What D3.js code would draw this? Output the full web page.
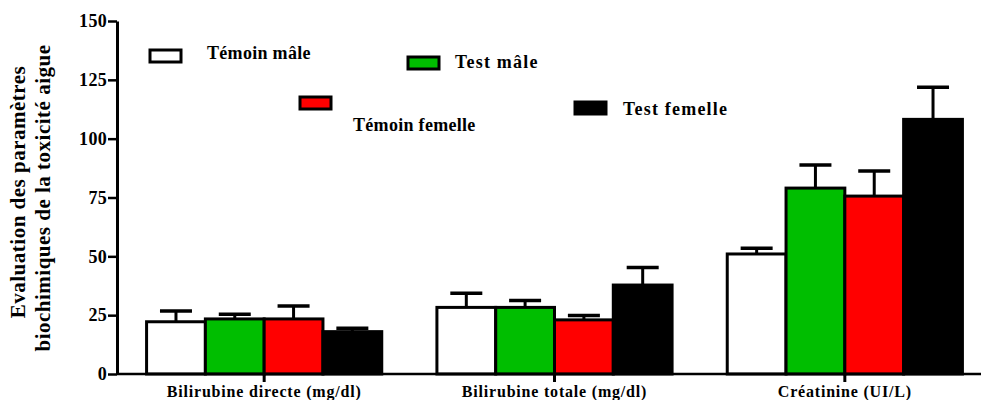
<!DOCTYPE html>
<html>
<head>
<meta charset="utf-8">
<script src="https://cdn.jsdelivr.net/npm/d3@7"></script>
<style>
    body { margin: 0; background: #fff; }
    svg { display: block; font-family: 'Liberation Serif', 'Times New Roman', serif; font-weight: bold; }
</style>
</head>
<body>
<div class="graph-container"></div>
<script>
// categories on the x axis
var categories = ['Bilirubine directe (mg/dl)', 'Bilirubine totale (mg/dl)', 'Créatinine (UI/L)'];
// series names
var seriesNames = ['Témoin mâle', 'Test mâle', 'Témoin femelle', 'Test femelle'];
var seriesColors = ['#ffffff', '#00be00', '#ff0000', '#000000'];

// means
var temoinMale = [22.2, 28.3, 51.0];
var testMale = [23.4, 28.3, 79.0];
var temoinFemelle = [23.4, 23.0, 75.6];
var testFemelle = [18.0, 37.8, 108.2];

// upper error (SEM)
var temoinMaleErr = [4.6, 6.0, 2.4];
var testMaleErr = [2.0, 2.9, 9.8];
var temoinFemelleErr = [5.5, 1.9, 10.7];
var testFemelleErr = [1.4, 7.5, 13.6];

var yTicks = [0, 25, 50, 75, 100, 125, 150];

var svgWidth = 981;
var svgHeight = 400;

// legend layout (swatch x, swatch y, text x, text y)
var legendLayout = [
    [150, 50, 207, 59],
    [408, 57, 455, 68],
    [300, 97, 353, 131],
    [575, 102, 623, 115]
];

var values = [temoinMale, testMale, temoinFemelle, testFemelle];
var errors = [temoinMaleErr, testMaleErr, temoinFemelleErr, testFemelleErr];

// flatten into one row per bar
var bars = [];
categories.forEach(function(c, ci) {
    seriesNames.forEach(function(s, si) {
        bars.push({ cat: c, series: s, si: si, value: values[si][ci], err: errors[si][ci] });
    });
});

var yScale = d3.scaleLinear()
    .domain([0, 150])
    .range([374, 21]);

var xScale = d3.scaleBand()
    .domain(categories)
    .range([119, 990])
    .paddingInner(0.19)
    .paddingOuter(0.095);

var xSub = d3.scaleBand()
    .domain(seriesNames)
    .range([0, xScale.bandwidth()]);

var svg = d3.select('.graph-container').append('svg')
    .attr('width', svgWidth)
    .attr('height', svgHeight);

// y axis title, two lines
var yTitle = svg.append('text')
    .attr('transform', 'translate(0,198) rotate(-90)')
    .style('text-anchor', 'middle')
    .style('font-size', '21px')
    .style('letter-spacing', '0.5px');
yTitle.append('tspan').attr('x', 6).attr('y', 25).text('Evaluation des paramètres');
yTitle.append('tspan').attr('x', 0).attr('y', 50).text('biochimiques de la toxicité aigue');

// bars
var g = svg.append('g');
g.selectAll('rect.bar')
    .data(bars)
    .enter()
    .append('rect')
    .attr('class', 'bar')
    .attr('x', function(d) { return xScale(d.cat) + xSub(d.series); })
    .attr('width', xSub.bandwidth())
    .attr('y', function(d) { return yScale(d.value); })
    .attr('height', function(d) { return yScale(0) - yScale(d.value); })
    .attr('fill', function(d) { return seriesColors[d.si]; })
    .attr('stroke', '#000')
    .attr('stroke-width', 3);

// error bars (upper only)
var capW = 32;
g.selectAll('line.err')
    .data(bars)
    .enter()
    .append('line')
    .attr('x1', function(d) { return xScale(d.cat) + xSub(d.series) + xSub.bandwidth() / 2; })
    .attr('x2', function(d) { return xScale(d.cat) + xSub(d.series) + xSub.bandwidth() / 2; })
    .attr('y1', function(d) { return yScale(d.value); })
    .attr('y2', function(d) { return yScale(d.value + d.err); })
    .attr('stroke', '#000')
    .attr('stroke-width', 3);
g.selectAll('line.cap')
    .data(bars)
    .enter()
    .append('line')
    .attr('x1', function(d) { return xScale(d.cat) + xSub(d.series) + xSub.bandwidth() / 2 - capW / 2; })
    .attr('x2', function(d) { return xScale(d.cat) + xSub(d.series) + xSub.bandwidth() / 2 + capW / 2; })
    .attr('y1', function(d) { return yScale(d.value + d.err); })
    .attr('y2', function(d) { return yScale(d.value + d.err); })
    .attr('stroke', '#000')
    .attr('stroke-width', 3.5);

// x axis
var xAxis = d3.axisBottom(xScale).tickSize(8).tickSizeOuter(0).tickPadding(4);
var xg = svg.append('g')
    .attr('transform', 'translate(0,' + yScale(0) + ')')
    .call(xAxis);
xg.select('.domain').attr('d', 'M117,0H981').attr('stroke', '#000').attr('stroke-width', 2.5);
xg.selectAll('.tick line').attr('stroke-width', 3);
xg.selectAll('.tick text')
    .attr('fill', '#000')
    .style('font-family', "'Liberation Serif', serif")
    .style('font-weight', 'bold')
    .style('font-size', '16px')
    .style('letter-spacing', '0.8px');

// y axis
var yAxis = d3.axisLeft(yScale).tickValues(yTicks).tickSize(9).tickSizeOuter(0).tickPadding(1);
var yg = svg.append('g')
    .attr('transform', 'translate(117,0)')
    .call(yAxis);
yg.select('.domain').attr('stroke', '#000').attr('stroke-width', 3);
yg.selectAll('.tick line').attr('stroke-width', 2.5);
yg.selectAll('.tick text')
    .attr('fill', '#000')
    .style('font-family', "'Liberation Serif', serif")
    .style('font-weight', 'bold')
    .style('font-size', '18px')
    .style('letter-spacing', '0.3px');

// legend
var leg = svg.append('g');
seriesNames.forEach(function(s, i) {
    var p = legendLayout[i];
    leg.append('rect')
        .attr('x', p[0])
        .attr('y', p[1])
        .attr('width', 31)
        .attr('height', 12)
        .attr('fill', seriesColors[i])
        .attr('stroke', '#000')
        .attr('stroke-width', 3);
    leg.append('text')
        .attr('x', p[2])
        .attr('y', p[3])
        .style('font-size', '18px')
        .style('letter-spacing', i % 2 === 1 ? '1.2px' : '0.3px')
        .text(s);
});
</script>
</body>
</html>
